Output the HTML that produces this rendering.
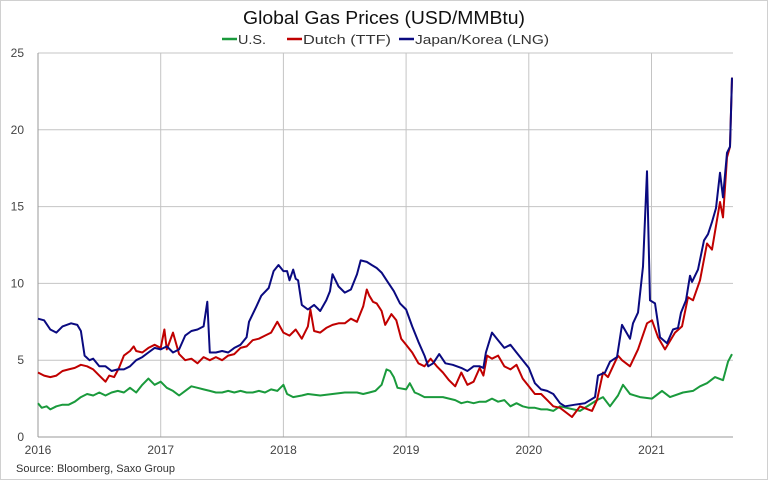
<!DOCTYPE html>
<html><head><meta charset="utf-8"><style>
body{margin:0;background:#fff}
svg{display:block;font-family:"Liberation Sans",sans-serif}
</style></head><body>
<svg id="s" width="768" height="480" viewBox="0 0 768 480">
<rect x="0.5" y="0.5" width="767" height="479" fill="#fff" stroke="#d0d0d0"/>
<text x="243" y="24" font-size="18" fill="#111" textLength="282" lengthAdjust="spacingAndGlyphs">Global Gas Prices (USD/MMBtu)</text>
<g font-size="13" fill="#333">
<line x1="222" y1="39" x2="237" y2="39" stroke="#1a9a3c" stroke-width="2.5"/><text x="238" y="44" textLength="28" lengthAdjust="spacingAndGlyphs">U.S.</text>
<line x1="287" y1="39" x2="302" y2="39" stroke="#c00000" stroke-width="2.5"/><text x="303" y="44" textLength="88" lengthAdjust="spacingAndGlyphs">Dutch (TTF)</text>
<line x1="399" y1="39" x2="414" y2="39" stroke="#0a0a80" stroke-width="2.5"/><text x="415" y="44" textLength="134" lengthAdjust="spacingAndGlyphs">Japan/Korea (LNG)</text>
</g>
<g id="grid" stroke="#c4c4c4" stroke-width="1"></g>
<g id="lab" font-size="12" fill="#444"></g>
<g id="ser" fill="none" stroke-width="2" stroke-linejoin="round"></g>
<text x="16" y="472" font-size="11" fill="#333">Source: Bloomberg, Saxo Group</text>
</svg>
<script>
var NS="http://www.w3.org/2000/svg";
function el(p,t,a,txt){var e=document.createElementNS(NS,t);for(var k in a)e.setAttribute(k,a[k]);if(txt!=null)e.textContent=txt;document.getElementById(p).appendChild(e);}
var X0=38,YW=122.7,Y0=437,VS=15.36,XR=733;
for(var i=0;i<=5;i++){var y=Y0-i*5*VS;el("grid","line",{x1:X0,x2:XR,y1:y,y2:y});el("lab","text",{x:24,y:y+4,"text-anchor":"end"},""+i*5);}
for(var j=0;j<=5;j++){var x=X0+j*YW;el("grid","line",{x1:x,x2:x,y1:53,y2:Y0});el("lab","text",{x:x,y:454,"text-anchor":"middle"},""+(2016+j));}
el("grid","line",{x1:X0,x2:X0,y1:53,y2:Y0,stroke:"#999"});
el("grid","line",{x1:X0,x2:XR,y1:Y0,y2:Y0,stroke:"#999"});
function path(early,late,col){
 var pts=[];
 for(var i=0;i<early.length;i+=2)pts.push([X0+(early[i]-2016)*YW,Y0-early[i+1]*VS]);
 for(var i=0;i<late.length;i+=2)pts.push([late[i],Y0-late[i+1]*VS]);
 el("ser","polyline",{points:pts.map(function(p){return p[0].toFixed(1)+","+p[1].toFixed(1)}).join(" "),stroke:col});
}
var g=[2016,2.2,2016.03,1.9,2016.07,2.0,2016.1,1.8,2016.15,2.0,2016.2,2.1,2016.25,2.1,2016.3,2.3,2016.35,2.6,2016.4,2.8,2016.45,2.7,2016.5,2.9,2016.55,2.7,2016.6,2.9,2016.65,3.0,2016.7,2.9,2016.75,3.2,2016.8,2.9,2016.85,3.4,2016.9,3.8,2016.95,3.4,2017,3.6,2017.05,3.2,2017.1,3.0,2017.15,2.7,2017.2,3.0,2017.25,3.3,2017.3,3.2,2017.35,3.1,2017.4,3.0,2017.45,2.9,2017.5,2.9,2017.55,3.0,2017.6,2.9,2017.65,3.0,2017.7,2.9,2017.75,2.9,2017.8,3.0,2017.85,2.9,2017.9,3.1,2017.95,3.0,2018,3.4,2018.03,2.8,2018.08,2.6,2018.15,2.7,2018.2,2.8,2018.3,2.7,2018.4,2.8,2018.5,2.9,2018.6,2.9,2018.65,2.8,2018.7,2.9,2018.75,3.0,2018.8,3.4,2018.84,4.4,2018.87,4.3,2018.9,3.9,2018.93,3.2,2019,3.1,2019.03,3.5,2019.07,2.9,2019.1,2.8,2019.15,2.6,2019.2,2.6,2019.3,2.6,2019.4,2.4,2019.45,2.2,2019.5,2.3,2019.55,2.2,2019.6,2.3,2019.65,2.3,2019.7,2.5,2019.75,2.3,2019.8,2.4,2019.85,2.0,2019.9,2.2,2019.95,2.0,2020,1.9,2020.05,1.9,2020.1,1.8,2020.15,1.8,2020.2,1.7];
var gl=[560,2.0,580,1.7,597,2.4,603,2.6,610,2.0,618,2.7,623,3.4,630,2.8,640,2.6,652,2.5,662,3.0,670,2.6,683,2.9,693,3.0,700,3.3,707,3.5,715,3.9,723,3.7,728,4.9,732,5.4];
var r=[2016,4.2,2016.05,4.0,2016.1,3.9,2016.15,4.0,2016.2,4.3,2016.25,4.4,2016.3,4.5,2016.35,4.7,2016.4,4.6,2016.45,4.4,2016.5,4.0,2016.55,3.6,2016.58,4.0,2016.62,3.9,2016.66,4.5,2016.7,5.3,2016.75,5.6,2016.78,5.9,2016.8,5.6,2016.85,5.5,2016.9,5.8,2016.95,6.0,2017,5.8,2017.03,7.0,2017.05,5.7,2017.1,6.8,2017.15,5.4,2017.2,5.0,2017.25,5.1,2017.3,4.8,2017.35,5.2,2017.4,5.0,2017.45,5.2,2017.5,5.0,2017.55,5.3,2017.6,5.4,2017.65,5.8,2017.7,5.9,2017.75,6.3,2017.8,6.4,2017.85,6.6,2017.9,6.8,2017.95,7.5,2018,6.8,2018.05,6.6,2018.1,7.0,2018.15,6.4,2018.2,7.2,2018.22,8.3,2018.25,6.9,2018.3,6.8,2018.35,7.1,2018.4,7.3,2018.45,7.4,2018.5,7.4,2018.55,7.7,2018.6,7.5,2018.65,8.5,2018.68,9.6,2018.7,9.2,2018.73,8.8,2018.76,8.7,2018.8,8.2,2018.83,7.3,2018.88,8.0,2018.92,7.6,2018.96,6.4,2019,6.0,2019.05,5.5,2019.1,4.8,2019.15,4.6,2019.2,5.1,2019.25,4.6,2019.3,4.2,2019.35,3.7,2019.4,3.3,2019.45,4.2,2019.5,3.4,2019.55,3.6,2019.6,4.5,2019.63,4.0,2019.66,5.3,2019.7,5.1,2019.75,5.3,2019.8,4.6,2019.85,4.4,2019.9,4.7,2019.95,3.8,2020,3.3,2020.05,2.8,2020.1,2.8,2020.15,2.4,2020.2,2.0];
var rl=[560,1.9,572,1.3,580,2.0,592,1.7,597,2.4,603,4.2,608,3.9,618,5.3,622,5.0,630,4.6,638,5.7,647,7.4,652,7.6,658,6.5,665,5.7,675,6.8,682,7.2,688,9.1,693,8.9,700,10.2,707,12.6,712,12.2,720,15.3,723,14.3,727,18.2,730,18.9,732,23.4];
var b=[2016,7.7,2016.05,7.6,2016.1,7.0,2016.15,6.8,2016.2,7.2,2016.27,7.4,2016.32,7.3,2016.35,6.9,2016.38,5.3,2016.42,5.0,2016.45,5.1,2016.5,4.6,2016.55,4.6,2016.6,4.3,2016.65,4.4,2016.7,4.4,2016.75,4.6,2016.8,5.0,2016.85,5.2,2016.9,5.5,2016.95,5.8,2017,5.7,2017.05,5.9,2017.1,5.5,2017.15,5.7,2017.2,6.6,2017.25,6.9,2017.3,7.0,2017.35,7.2,2017.38,8.8,2017.4,5.5,2017.45,5.5,2017.5,5.6,2017.55,5.5,2017.6,5.8,2017.65,6.0,2017.7,6.5,2017.72,7.5,2017.78,8.5,2017.82,9.2,2017.88,9.7,2017.92,10.8,2017.96,11.2,2018,10.8,2018.03,10.8,2018.05,10.2,2018.08,10.9,2018.1,10.3,2018.12,10.2,2018.15,8.6,2018.2,8.3,2018.25,8.6,2018.3,8.2,2018.35,8.9,2018.38,9.5,2018.4,10.6,2018.45,9.8,2018.5,9.4,2018.55,9.6,2018.6,10.6,2018.63,11.5,2018.68,11.4,2018.72,11.2,2018.76,11.0,2018.8,10.7,2018.85,10.1,2018.9,9.5,2018.95,8.7,2019,8.3,2019.05,7.2,2019.1,6.2,2019.15,5.3,2019.18,4.6,2019.22,4.8,2019.27,5.4,2019.32,4.8,2019.38,4.7,2019.45,4.5,2019.5,4.3,2019.55,4.6,2019.6,4.6,2019.63,4.5,2019.65,5.5,2019.7,6.8,2019.75,6.3,2019.8,5.8,2019.85,6.0,2019.9,5.5,2019.95,5.0,2020,4.5,2020.05,3.5,2020.1,3.1,2020.15,3.0,2020.2,2.8];
var bl=[560,2.2,565,2.0,575,2.1,585,2.2,595,2.6,598,4.0,605,4.2,610,4.9,617,5.2,622,7.3,630,6.4,633,7.4,638,8.1,643,11.1,647,17.3,650,8.9,655,8.7,660,6.5,667,6.1,673,7.0,678,7.1,681,8.1,686,8.9,690,10.5,692,10.1,698,10.9,704,12.8,708,13.2,712,14.0,716,14.9,720,17.2,723,15.6,727,18.5,730,18.9,732,23.4];
path(g,gl,"#1a9a3c");path(r,rl,"#c00000");path(b,bl,"#0a0a80");
</script>
</body></html>
